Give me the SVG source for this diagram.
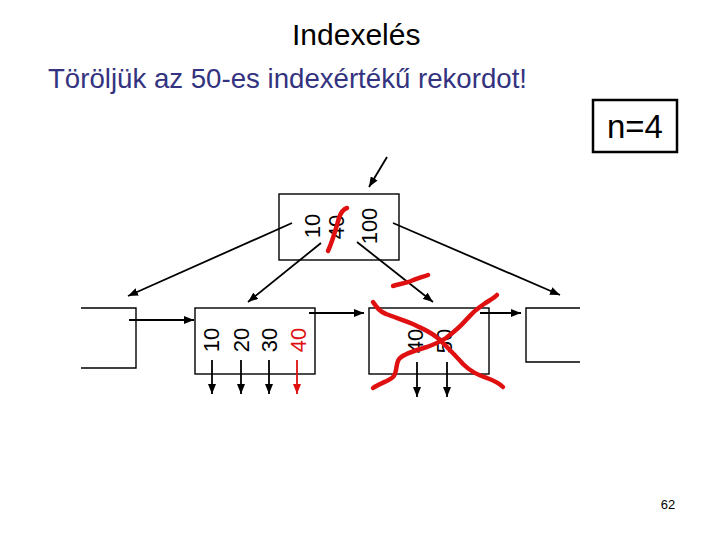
<svg xmlns="http://www.w3.org/2000/svg" width="720" height="540" viewBox="0 0 720 540">
<defs>
<marker id="ah" viewBox="0 0 10 8" refX="10" refY="4" markerWidth="10" markerHeight="8" markerUnits="userSpaceOnUse" orient="auto">
<path d="M0,0 L10,4 L0,8 z" fill="#000"/>
</marker>
<marker id="ahr" viewBox="0 0 10 8" refX="10" refY="4" markerWidth="10" markerHeight="8" markerUnits="userSpaceOnUse" orient="auto">
<path d="M0,0 L10,4 L0,8 z" fill="#e01010"/>
</marker>
</defs>
<style>
.box{fill:none;stroke:#000;stroke-width:1.4}
.k{font-family:"Liberation Sans",Arial,sans-serif;font-size:22px;fill:#000;text-anchor:middle}
.red{fill:#e01010}
.c{stroke:#000;stroke-width:1.8;fill:none;marker-end:url(#ah)}
.cr{stroke:#e01010;stroke-width:1.8;fill:none;marker-end:url(#ahr)}
.x{stroke:#e01010;stroke-width:4.5;fill:none;stroke-linecap:round;stroke-linejoin:round}
</style>
<rect width="720" height="540" fill="#fff"/>
<text x="292" y="45" font-family="Liberation Sans,Arial,sans-serif" font-size="30" fill="#000">Indexelés</text>
<text x="48" y="88" font-family="Liberation Sans,Arial,sans-serif" font-size="28" fill="#333380" textLength="479" lengthAdjust="spacingAndGlyphs">Töröljük az 50-es indexértékű rekordot!</text>
<g id="nbox">
<rect x="593" y="100" width="84" height="52" fill="none" stroke="#000" stroke-width="2.5"/>
<text x="635" y="138" font-family="Liberation Sans,Arial,sans-serif" font-size="33" fill="#000" text-anchor="middle">n=4</text>
</g>
<g id="root">
<rect class="box" x="279" y="194" width="120" height="66"/>
<text class="k" transform="translate(320,226) rotate(-90)">10</text>
<text class="k" transform="translate(344,227) rotate(-90)">40</text>
<text class="k" transform="translate(377,226) rotate(-90)">100</text>
</g>
<g id="leaf0">
<path class="box" d="M81,308 H136 V368 H81"/>
</g>
<g id="leaf1">
<rect class="box" x="195" y="308" width="120" height="66"/>
<text class="k" transform="translate(219,340) rotate(-90)">10</text>
<text class="k" transform="translate(249,340) rotate(-90)">20</text>
<text class="k" transform="translate(277,340) rotate(-90)">30</text>
<text class="k red" transform="translate(306,340) rotate(-90)">40</text>
</g>
<g id="leaf2">
<rect class="box" x="369" y="308" width="120" height="66"/>
<text class="k" transform="translate(423,341) rotate(-90)">40</text>
<text class="k" transform="translate(452,341) rotate(-90)">50</text>
</g>
<g id="leaf3">
<path class="box" d="M580,308 H526 V362 H580"/>
</g>
<g id="connectors">
<line class="c" x1="387" y1="157" x2="369" y2="187"/>
<line class="c" x1="292" y1="223" x2="128" y2="296"/>
<line class="c" x1="321" y1="243" x2="248" y2="302"/>
<line class="c" x1="357" y1="242" x2="433" y2="302"/>
<line class="c" x1="393" y1="223" x2="560" y2="295"/>
<line class="c" x1="129" y1="320" x2="194" y2="320"/>
<line class="c" x1="309" y1="313" x2="364" y2="313"/>
<line class="c" x1="480" y1="313" x2="521" y2="313"/>
<line class="c" x1="212" y1="360" x2="212" y2="394"/>
<line class="c" x1="241" y1="360" x2="241" y2="394"/>
<line class="c" x1="269" y1="360" x2="269" y2="394"/>
<line class="cr" x1="297" y1="360" x2="297" y2="394"/>
<line class="c" x1="417" y1="362" x2="417" y2="397"/>
<line class="c" x1="447" y1="362" x2="447" y2="397"/>
</g>
<g id="strikes">
<path class="x" d="M328,251 C333,240 336,228 339,218 C341,212 344,209 347,208"/>
<path class="x" d="M393,286 C400,284 406,283 411,281 C418,278 423,277 428,275"/>
<path class="x" d="M373,302 C377,308 380,312 386,314 C396,318 405,320 415,325 C425,330 433,333 440,340 C448,348 455,355 463,364 C470,371 477,375 487,378 C495,381 499,383 503,387"/>
<path class="x" d="M373,388 C380,383 389,381 393,377 C398,372 395,362 400,358 C407,352 418,350 427,347 C435,344 440,342 446,338 C454,332 460,327 466,320 C472,313 478,308 484,304 C490,300 494,298 497,295"/>
</g>
<text x="668" y="509" font-family="Liberation Sans,Arial,sans-serif" font-size="13" fill="#000" text-anchor="middle">62</text>
</svg>
